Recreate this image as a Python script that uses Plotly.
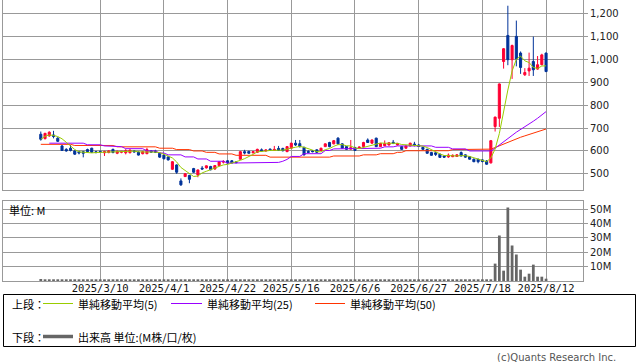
import pandas as pd
import plotly.graph_objects as go
from plotly.subplots import make_subplots

# ---------------- data ----------------
holidays = ["2025-02-24", "2025-03-20", "2025-04-29", "2025-05-05",
            "2025-05-06", "2025-07-21", "2025-08-11"]
_days = [d for d in pd.bdate_range("2025-02-17", "2025-08-12")
         if d.strftime("%Y-%m-%d") not in holidays]
dates = [f"{d.year}/{d.month}/{d.day}" for d in _days]

tick_labels = ["2025/3/10", "2025/4/1", "2025/4/22", "2025/5/16",
               "2025/6/6", "2025/6/27", "2025/7/18", "2025/8/12"]

opens = [673, 654, 666, 670, 656, 622, 607, 612, 600, 597,
         597, 606, 612, 597, 598, 592, 593, 607, 590, 594,
         592, 592, 600, 595, 588, 588, 600, 600, 590, 582,
         574, 520, 539, 469, 488, 493, 523, 495, 525, 526,
         532, 521, 536, 551, 557, 557, 552, 564, 597, 598,
         592, 594, 605, 600, 608, 602, 611, 611, 597, 612,
         634, 632, 616, 598, 600, 605, 602, 619, 637, 631,
         656, 631, 619, 608, 615, 612, 619, 648, 634, 656,
         619, 623, 626, 638, 626, 619, 612, 622, 630, 626,
         616, 607, 593, 592, 586, 578, 574, 575, 576, 593,
         583, 575, 564, 564, 561, 556, 548, 707, 743, 991,
         1105, 999, 1101, 1028, 933, 950, 991, 958, 977, 1028]
highs = [685, 679, 686, 688, 660, 626, 612, 626, 603, 600,
         600, 610, 614, 600, 602, 601, 603, 610, 602, 600,
         608, 606, 604, 598, 600, 614, 603, 605, 592, 584,
         576, 556, 541, 480, 503, 496, 526, 519, 534, 537,
         535, 538, 555, 560, 560, 560, 556, 600, 605, 601,
         600, 610, 611, 607, 611, 622, 622, 614, 621, 636,
         648, 648, 618, 603, 604, 607, 614, 633, 640, 648,
         660, 634, 621, 648, 618, 620, 640, 655, 650, 658,
         635, 646, 638, 648, 635, 621, 625, 636, 640, 630,
         618, 610, 596, 596, 588, 580, 589, 585, 586, 598,
         585, 578, 567, 566, 564, 560, 648, 750, 895, 1050,
         1235, 1065, 1170, 1035, 962, 1030, 1100, 1015, 1025, 1030]
lows = [645, 650, 662, 655, 640, 600, 597, 598, 583, 585,
        572, 594, 592, 590, 592, 578, 590, 590, 586, 590,
        585, 590, 593, 580, 585, 586, 592, 591, 570, 563,
        558, 517, 500, 447, 486, 459, 504, 485, 518, 523,
        515, 518, 533, 545, 543, 545, 546, 562, 585, 588,
        589, 592, 598, 597, 600, 600, 600, 598, 595, 610,
        622, 615, 580, 592, 594, 591, 600, 617, 616, 629,
        628, 610, 605, 606, 600, 610, 617, 635, 632, 617,
        617, 621, 624, 630, 624, 605, 610, 620, 620, 618,
        605, 588, 579, 578, 570, 570, 570, 573, 574, 576,
        570, 562, 551, 546, 550, 540, 545, 685, 705, 960,
        975, 915, 970, 937, 928, 928, 928, 955, 975, 945]
closes = [651, 677, 682, 663, 642, 602, 600, 602, 586, 591,
          590, 597, 594, 593, 595, 597, 600, 593, 598, 598,
          601, 604, 596, 582, 597, 606, 595, 594, 573, 566,
          561, 553, 507, 452, 500, 476, 507, 517, 521, 535,
          518, 536, 552, 554, 547, 548, 549, 597, 591, 590,
          597, 607, 600, 604, 603, 607, 602, 601, 619, 634,
          626, 619, 583, 594, 597, 594, 612, 631, 619, 645,
          631, 612, 607, 614, 602, 617, 637, 637, 648, 619,
          633, 632, 636, 633, 633, 607, 622, 634, 624, 620,
          607, 590, 581, 585, 572, 573, 582, 581, 583, 578,
          573, 564, 553, 553, 554, 542, 645, 748, 893, 1047,
          999, 1061, 1002, 965, 943, 962, 955, 977, 1020, 947]

# moving averages (25 / 50 day)
ma25 = ([None] * 2 + [634] * 9 + [627] * 4 + [622] * 2 + [619] * 3 + [610] * 5
        + [600] * 3 + [591] * 2 + [583] * 4 + [574] * 3 + [565] * 3 + [555] * 4
        + [547] * 12 + [550, 555, 563] + [576] * 3 + [588] * 5 + [602] * 2
        + [609] * 4 + [612] * 8 + [618] * 3 + [622] * 9 + [616] * 4 + [609] * 4
        + [600] * 5
        + [600, 612, 625, 640, 654, 668, 682, 695, 707, 718, 730, 743, 757, 772])
ma50 = ([629] * 8 + [624] * 10 + [618] * 10 + [612] * 4 + [606] * 4 + [600] * 3
        + [594] * 3 + [587] * 4 + [581] * 8 + [573] * 15 + [578] * 7 + [583] * 4
        + [588] * 4 + [594] * 2 + [601] * 11 + [606] * 9
        + [608, 615, 623, 631, 639, 646, 653, 660, 666, 672, 678, 684, 690, 696])

# volume in millions
volume = ([1.4] + [0.5] * 99 + [0.8] * 7
          + [12.1, 31.6, 7.2, 51.2, 24.7, 18.4, 7.9, 3.0, 5.1, 11.4, 3.0, 3.0, 1.6])

ma5 = pd.Series(closes).rolling(5, min_periods=1).mean().round(1).tolist()

price_ticks = [500, 600, 700, 800, 900, 1000, 1100, 1200]
vol_ticks = [10, 20, 30, 40, 50]
vol_tick_text = ["10M", "20M", "30M", "40M", "50M"]

# ---------------- styling ----------------
RED = "#ff0033"
BLUE = "#003399"
GREEN = "#99cc00"
PURPLE = "#9900ff"
ORANGE = "#ff3300"
GRID = "#999999"
CJK = "Noto Sans CJK JP"

W_FIG, H_FIG = 638, 362
ML, MR, MT, MB = 3, 55, 0, 81
PW = W_FIG - ML - MR
PH = H_FIG - MT - MB


def px(x):
    return (x - ML) / PW


def py(y):
    return (PH - (y - MT)) / PH


fig = make_subplots(rows=2, cols=1, shared_xaxes=True, vertical_spacing=0.0)

fig.add_trace(go.Candlestick(
    x=dates, open=opens, high=highs, low=lows, close=closes,
    increasing=dict(line=dict(color=RED, width=1), fillcolor=RED),
    decreasing=dict(line=dict(color=BLUE, width=1), fillcolor=BLUE),
    whiskerwidth=0, showlegend=False, hoverinfo="skip"), row=1, col=1)

for vals, col in [(ma50, ORANGE), (ma25, PURPLE), (ma5, GREEN)]:
    fig.add_trace(go.Scatter(x=dates, y=vals, mode="lines",
                             line=dict(color=col, width=1),
                             showlegend=False, hoverinfo="skip"), row=1, col=1)

fig.add_trace(go.Bar(x=dates, y=volume, marker=dict(color="#666666", line=dict(width=0)),
                     showlegend=False, hoverinfo="skip"), row=2, col=1)

xrange = [-8.9, 127.7]
common_x = dict(type="category", range=xrange, tickmode="array", tickvals=tick_labels,
                showgrid=True, gridcolor=GRID, gridwidth=1,
                showline=True, mirror=True, linecolor=GRID, linewidth=1,
                ticks="", zeroline=False)

fig.update_layout(
    width=W_FIG, height=H_FIG,
    margin=dict(l=ML, r=MR, t=MT, b=MB),
    paper_bgcolor="white", plot_bgcolor="white",
    showlegend=False, bargap=0.35,
    xaxis=dict(**common_x, showticklabels=False, rangeslider=dict(visible=False)),
    xaxis2=dict(**common_x, showticklabels=True, ticktext=tick_labels,
                ticklabelstandoff=-3,
                tickfont=dict(family="DejaVu Sans Mono", size=10.5, color="#111111")),
    yaxis=dict(domain=[py(190.3), 1.0], range=[428, 1260], side="right",
               tickmode="array", tickvals=price_ticks, tickformat=",d",
               showgrid=True, gridcolor=GRID, gridwidth=1,
               showline=True, mirror=True, linecolor=GRID, linewidth=1,
               ticks="outside", ticklen=4, tickcolor=GRID, zeroline=False,
               tickfont=dict(family="DejaVu Sans", size=10, color="#222222")),
    yaxis2=dict(domain=[0.0, py(201.3)], range=[0, 55.5], side="right",
                tickmode="array", tickvals=vol_ticks, ticktext=vol_tick_text,
                showgrid=True, gridcolor=GRID, gridwidth=1,
                showline=True, mirror=True, linecolor=GRID, linewidth=1,
                ticks="outside", ticklen=4, tickcolor=GRID, zeroline=False,
                tickfont=dict(family="DejaVu Sans", size=10, color="#222222")),
)

shapes = []
# legend frame
shapes.append(dict(type="rect", xref="paper", yref="paper",
                   x0=px(3.5), x1=px(635.5), y0=py(294.5), y1=py(346.5),
                   line=dict(color="black", width=1), fillcolor="rgba(0,0,0,0)"))
row1, row2 = 303.5, 336.5
for x0, x1, col in [(43, 73, GREEN), (171, 202, PURPLE), (315, 345, ORANGE)]:
    shapes.append(dict(type="line", xref="paper", yref="paper",
                       x0=px(x0), x1=px(x1), y0=py(row1), y1=py(row1),
                       line=dict(color=col, width=1)))
shapes.append(dict(type="line", xref="paper", yref="paper",
                   x0=px(43), x1=px(73), y0=py(row2), y1=py(row2),
                   line=dict(color="#666666", width=3.5)))
fig.update_layout(shapes=shapes)

ann = []


def add_text(x, y, text, size=11, family=CJK, color="black", anchor="left"):
    ann.append(dict(x=px(x), y=py(y), xref="paper", yref="paper", text=text,
                    showarrow=False, xanchor=anchor, yanchor="middle",
                    font=dict(family=family, size=size, color=color),
                    borderpad=0))


add_text(11, row1, "上段：")
add_text(77, row1, "単純移動平均(5)")
add_text(205.5, row1, "単純移動平均(25)")
add_text(349, row1, "単純移動平均(50)")
add_text(11, row2, "下段：")
add_text(77, row2, "出来高 単位:(M株/口/枚)")
add_text(7.5, 209.5, "単位: M")
add_text(617, 357.5, "(c)Quants Research Inc.", size=10, family="DejaVu Sans",
         color="#555555", anchor="right")
fig.update_layout(annotations=ann)

fig.write_html("out.html")
